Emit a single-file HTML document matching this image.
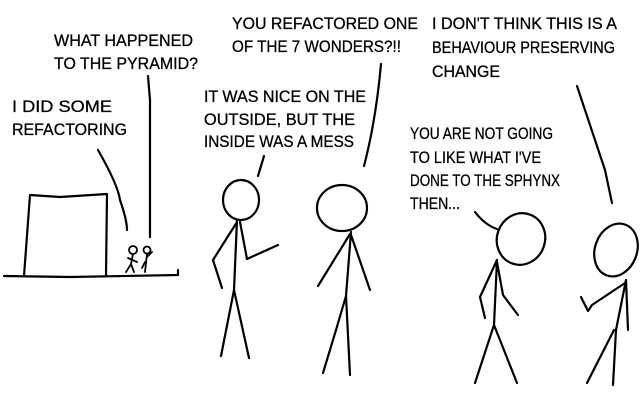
<!DOCTYPE html>
<html><head><style>html,body{margin:0;padding:0;background:#fff;}svg{display:block}
text{font-family:"Liberation Sans",sans-serif;font-size:17px;fill:#000;stroke:#000;stroke-width:0.3;}</style></head>
<body>
<svg width="640" height="400" viewBox="0 0 640 400" xmlns="http://www.w3.org/2000/svg">
<g fill="none" stroke="#000" stroke-width="2.2" stroke-linecap="round" stroke-linejoin="round">
<path d="M4 276 L70 277 L178 275 L178 270"/>
<path d="M24 276 L30 195 L60 197 L107 194 L106 276"/>
<circle cx="133" cy="250" r="4" stroke-width="1.8"/>
<path d="M133 254 L131 264 L126 272 M131 264 L134 272 M128 258 L137 262" stroke-width="1.8"/>
<circle cx="147" cy="250" r="3.5" stroke-width="1.8"/>
<path d="M147 254 L145 272 M145 262 L142 268 M147 257 L152 252" stroke-width="1.8"/>
<path d="M148 76 L150 100 L150 237"/>
<path d="M98 150 Q118 185 120 200 Q127 220 127 230"/>
<path d="M258 176 L264 156"/>
<path d="M381 64 Q376 120 364 166"/>
<path d="M577 86 Q595 140 605 170 L612 203"/>
<path d="M475 212 Q485 225 497 229"/>
<ellipse cx="241" cy="200" rx="18" ry="20"/>
<path d="M237 220 L234 290 L221 356 M234 290 L249 358 M237 222 L213 260 L222 288 M240 222 L247 259 L278 245"/>
<ellipse cx="342" cy="208" rx="25" ry="23"/>
<path d="M351 232 L346 296 L336 330 L323 373 M346 296 L350 375 M350 234 L318 286 M351 235 L370 290"/>
<ellipse cx="521" cy="239" rx="24" ry="26" transform="rotate(20 521 239)"/>
<path d="M497 260 L494 325 L475 383 M494 325 L517 383 M497 260 L480 297 L485 318 M497 262 L503 295 L518 315"/>
<ellipse cx="616" cy="250" rx="21" ry="27" transform="rotate(20 616 250)"/>
<path d="M626 280 L616 330 L613 385 M614 330 L587 383 M626 280 L628 330 M625 283 L592 305 L588 311 L581 297"/>
</g>
<g>
<text x="54" y="46" textLength="139" lengthAdjust="spacingAndGlyphs">WHAT HAPPENED</text>
<text x="54" y="69" textLength="144" lengthAdjust="spacingAndGlyphs">TO THE PYRAMID?</text>
<text x="12" y="112" textLength="100" lengthAdjust="spacingAndGlyphs">I DID SOME</text>
<text x="12" y="135" textLength="115" lengthAdjust="spacingAndGlyphs">REFACTORING</text>
<text x="232" y="29" textLength="186" lengthAdjust="spacingAndGlyphs">YOU REFACTORED ONE</text>
<text x="232" y="52" textLength="169" lengthAdjust="spacingAndGlyphs">OF THE 7 WONDERS?!!</text>
<text x="204" y="102" textLength="162" lengthAdjust="spacingAndGlyphs">IT WAS NICE ON THE</text>
<text x="204" y="125" textLength="151" lengthAdjust="spacingAndGlyphs">OUTSIDE, BUT THE</text>
<text x="204" y="147" textLength="150" lengthAdjust="spacingAndGlyphs">INSIDE WAS A MESS</text>
<text x="432" y="29" textLength="185" lengthAdjust="spacingAndGlyphs">I DON'T THINK THIS IS A</text>
<text x="432" y="53" textLength="183" lengthAdjust="spacingAndGlyphs">BEHAVIOUR PRESERVING</text>
<text x="432" y="77" textLength="68" lengthAdjust="spacingAndGlyphs">CHANGE</text>
<text x="410" y="139" textLength="143" lengthAdjust="spacingAndGlyphs">YOU ARE NOT GOING</text>
<text x="410" y="163" textLength="131" lengthAdjust="spacingAndGlyphs">TO LIKE WHAT I'VE</text>
<text x="410" y="186" textLength="150" lengthAdjust="spacingAndGlyphs">DONE TO THE SPHYNX</text>
<text x="410" y="209" textLength="50" lengthAdjust="spacingAndGlyphs">THEN...</text>
</g>
</svg>
</body></html>
